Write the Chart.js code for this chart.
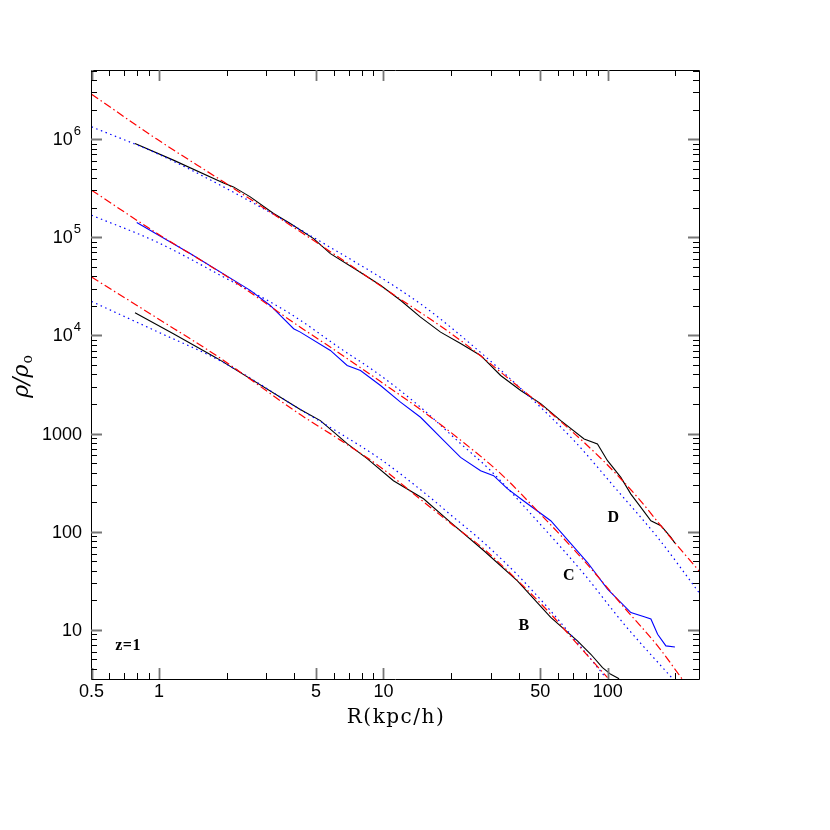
<!DOCTYPE html>
<html><head><meta charset="utf-8">
<script src="https://cdn.jsdelivr.net/npm/chart.js@4/dist/chart.umd.min.js"></script>
<style>html,body{margin:0;padding:0;background:#fff;}canvas{display:block;}</style>
</head><body>
<canvas id="c" width="830" height="830"></canvas>
<script>
// ---- axis ranges / ticks ----
const X_MIN = 0.4972, X_MAX = 254.9;
const Y_MIN = 3.162, Y_MAX = 5.06e6;
const xTickValues = [0.5, 1, 5, 10, 50, 100];
const xTickLabels = ['0.5', '1', '5', '10', '50', '100'];
const yTickValues = [10, 100, 1000, 1e4, 1e5, 1e6];
const yTickBase = ['10', '100', '1000', '10', '10', '10'];
const yTickExp = ['', '', '', '4', '5', '6'];

// ---- halo D (top) ----
const D_sim_R   = [0.781,1.158,1.937,2.146,2.549,3.238,3.844,4.885,5.80,7.63,9.70,11.91,14.63,17.97,22.07,27.10,33.29,40.89,50.22,61.7,78.4,89.9,99.7,114.3,126.7,140.4,155.6,172.5,191.1,199.1];
const D_sim_rho = [9.04e5,6.11e5,3.58e5,3.26e5,2.58e5,1.746e5,1.380e5,9.70e4,6.82e4,4.61e4,3.24e4,2.28e4,1.538e4,1.081e4,8.29e3,6.25e3,3.91e3,2.75e3,2.02e3,1357,883,785,530,358,242,177,129.5,115.1,87.5,76.7];
const D_fitA_R   = [0.5,0.977,1.937,5.40,9.70,22.07,40.89,61.7,96.3,135.7,184.7,254.9];
const D_fitA_rho = [2.87e6,1.0e6,3.67e5,7.96e4,3.20e4,8.89e3,2.88e3,1326,518,224,94.7,40.0];
const D_fitB_R   = [0.5,0.977,1.937,5.40,14.63,27.10,40.89,70.7,110.5,166.7,254.9];
const D_fitB_rho = [1.335e6,7.15e5,3.26e5,8.69e4,2.096e4,6.71e3,2.88e3,848,262,87.5,24.0];

// ---- halo C (middle) ----
const C_sim_R   = [0.795,1.375,2.549,3.13,3.978,4.26,5.80,6.89,7.90,9.70,11.91,14.63,17.97,22.07,27.10,30.98,35.66,40.89,55.66,81.2,99.7,126.7,145.3,155.6,166.7,181.5,199.1];
const C_sim_rho = [1.413e5,6.82e4,2.88e4,2.02e4,1.17e4,1.081e4,7.03e3,4.94e3,4.39e3,3.09e3,2.09e3,1467,917,573,419,373,275,217,129.5,48.6,26.0,15.0,13.6,12.9,9.04,6.87,6.71];
const C_fitA_R   = [0.5,0.977,1.937,4.26,6.43,9.70,14.63,22.07,33.29,46.9,78.4,118.3,166.7,214];
const C_fitA_rho = [3.02e5,1.099e5,4.19e4,1.215e4,6.48e3,3.39e3,1757,858,391,177,50.6,16.9,6.87,3.18];
const C_fitB_R   = [0.5,0.977,1.937,3.844,6.43,9.70,14.63,22.07,30.05,46.9,78.4,118.3,194.5];
const C_fitB_rho = [1.677e5,8.95e4,3.94e4,1.665e4,7.37e3,3.91e3,1855,791,419,140,37.0,11.4,3.18];

// ---- halo B (bottom) ----
const B_sim_R   = [0.781,1.158,1.810,4.26,5.235,6.89,8.46,11.08,15.09,19.91,28.04,39.54,55.66,73.2,84.0,94.7,103.1,112.3];
const B_sim_rho = [1.704e4,1.041e4,5.87e3,1757,1357,791,556,331,217,124.4,64.0,31.6,13.4,7.72,5.65,4.12,3.53,3.18];
const B_fitA_R   = [0.5,0.977,1.840,4.26,6.43,9.70,14.33,19.91,28.04,39.54,55.66,73.2,99.7];
const B_fitA_rho = [3.93e4,1.509e4,6.03e3,1563,858,455,222,122.1,66.6,32.0,14.5,7.15,3.26];
const B_fitB_R   = [0.5,0.977,1.937,4.26,6.43,9.70,16.21,19.91,28.04,39.54,55.66,78.4,97.97];
const B_fitB_rho = [2.22e4,1.098e4,5.30e3,1757,1000,549,222,149.1,77.2,36.4,15.6,6.11,3.26];

// ---- text labels (data coordinates) ----
const labelText = ['D', 'C', 'B', 'z=1'];
const labelR    = [106, 67.2, 42.3, 0.727];
const labelRho  = [140, 35.6, 11.0, 6.87];

const pts = (R, rho) => R.map((r, i) => ({x: r, y: rho[i]}));
const RED = '#ff0000', BLUE = '#0000ff', BLACK = '#000000';
const dashDot = [8, 3, 1.5, 3];
const dotted = [1.5, 3.5];

function fitDS(label, R, rho, color, dash) {
  return {label, data: pts(R, rho), borderColor: color, borderWidth: 1.2, borderDash: dash,
    pointRadius: 0, fill: false, tension: 0.4, cubicInterpolationMode: 'monotone'};
}
function simDS(label, R, rho, color) {
  return {label, data: pts(R, rho), borderColor: color, borderWidth: 1.1,
    pointRadius: 0, fill: false, tension: 0};
}

const decor = {
  id: 'decor',
  afterDraw(chart) {
    const ctx = chart.ctx, a = chart.chartArea;
    const xs = chart.scales.x, ys = chart.scales.y;
    ctx.save();
    // frame
    ctx.strokeStyle = '#000'; ctx.lineWidth = 1;
    ctx.beginPath();
    ctx.moveTo(a.left + 0.5, a.top + 0.5); ctx.lineTo(a.right + 0.5, a.top + 0.5);
    ctx.lineTo(a.right + 0.5, a.bottom + 0.5); ctx.lineTo(a.left + 0.5, a.bottom + 0.5);
    ctx.closePath(); ctx.stroke();
    // x ticks
    for (let k = -1; k <= 2; k++) {
      for (let m = 1; m <= 9; m++) {
        const v = m * Math.pow(10, k);
        if (v < X_MIN || v > X_MAX) continue;
        const major = (m === 1 || m === 5);
        const px = Math.round(xs.getPixelForValue(v)) + 0.5;
        const len = major ? 11 : 6;
        ctx.strokeStyle = major ? '#777' : '#000';
        ctx.lineWidth = major ? 1.8 : 1;
        ctx.beginPath();
        ctx.moveTo(px, a.bottom); ctx.lineTo(px, a.bottom - len);
        ctx.moveTo(px, a.top); ctx.lineTo(px, a.top + len);
        ctx.stroke();
      }
    }
    // y ticks
    for (let k = 0; k <= 6; k++) {
      for (let m = 1; m <= 9; m++) {
        const v = m * Math.pow(10, k);
        if (v < Y_MIN || v > Y_MAX) continue;
        const major = (m === 1);
        const py = Math.round(ys.getPixelForValue(v)) + 0.5;
        const len = major ? 11 : 6;
        ctx.strokeStyle = major ? '#777' : '#000';
        ctx.lineWidth = major ? 1.8 : 1;
        ctx.beginPath();
        ctx.moveTo(a.left, py); ctx.lineTo(a.left + len, py);
        ctx.moveTo(a.right, py); ctx.lineTo(a.right - len, py);
        ctx.stroke();
      }
    }
    ctx.fillStyle = '#000';
    // x tick labels
    ctx.font = '18px "Liberation Sans", Arial, sans-serif';
    ctx.textAlign = 'center'; ctx.textBaseline = 'middle';
    xTickValues.forEach((v, i) => {
      ctx.fillText(xTickLabels[i], xs.getPixelForValue(v), a.bottom + 13);
    });
    // y tick labels
    const rightX = a.left - 10;
    yTickValues.forEach((v, i) => {
      const py = ys.getPixelForValue(v);
      ctx.textBaseline = 'middle';
      if (yTickExp[i]) {
        ctx.font = '13px "Liberation Sans", Arial, sans-serif';
        ctx.textAlign = 'right';
        ctx.fillText(yTickExp[i], rightX, py - 8);
        const ew = ctx.measureText(yTickExp[i]).width;
        ctx.font = '18px "Liberation Sans", Arial, sans-serif';
        ctx.fillText(yTickBase[i], rightX - ew - 1, py + 1);
      } else {
        ctx.font = '18px "Liberation Sans", Arial, sans-serif';
        ctx.textAlign = 'right';
        ctx.fillText(yTickBase[i], rightX + 1, py + 1);
      }
    });
    // axis titles
    ctx.font = '20px "DejaVu Serif", "Liberation Serif", serif';
    try { ctx.letterSpacing = '1.5px'; } catch (e) {}
    ctx.textAlign = 'center'; ctx.textBaseline = 'middle';
    ctx.fillText('R(kpc/h)', (a.left + a.right) / 2 + 1, 718);
    try { ctx.letterSpacing = '0px'; } catch (e) {}
    ctx.save();
    ctx.translate(22, 377);
    ctx.rotate(-Math.PI / 2);
    ctx.font = 'italic 22px "DejaVu Serif", "Liberation Serif", serif';
    ctx.textAlign = 'left'; ctx.textBaseline = 'middle';
    const main = 'ρ/ρ';
    const mw = ctx.measureText(main).width;
    ctx.font = '14px "DejaVu Serif", "Liberation Serif", serif';
    const sw = ctx.measureText('o').width;
    const x0 = -(mw + sw) / 2;
    ctx.font = 'italic 22px "DejaVu Serif", "Liberation Serif", serif';
    ctx.fillText(main, x0, 0);
    ctx.font = '14px "DejaVu Serif", "Liberation Serif", serif';
    ctx.fillText('o', x0 + mw + 1, 6);
    ctx.restore();
    // in-plot labels
    ctx.font = 'bold 16px "Liberation Serif", "DejaVu Serif", serif';
    try { ctx.letterSpacing = '0.5px'; } catch (e) {}
    ctx.textAlign = 'center'; ctx.textBaseline = 'middle';
    labelText.forEach((t, i) => {
      ctx.fillText(t, xs.getPixelForValue(labelR[i]), ys.getPixelForValue(labelRho[i]));
    });
    ctx.restore();
  }
};

new Chart(document.getElementById('c'), {
  type: 'line',
  data: {
    datasets: [
      fitDS('D fit A', D_fitA_R, D_fitA_rho, RED, dashDot),
      fitDS('D fit B', D_fitB_R, D_fitB_rho, BLUE, dotted),
      fitDS('C fit A', C_fitA_R, C_fitA_rho, RED, dashDot),
      fitDS('C fit B', C_fitB_R, C_fitB_rho, BLUE, dotted),
      fitDS('B fit A', B_fitA_R, B_fitA_rho, RED, dashDot),
      fitDS('B fit B', B_fitB_R, B_fitB_rho, BLUE, dotted),
      simDS('D', D_sim_R, D_sim_rho, BLACK),
      simDS('C', C_sim_R, C_sim_rho, BLUE),
      simDS('B', B_sim_R, B_sim_rho, BLACK)
    ]
  },
  options: {
    animation: false, responsive: false, devicePixelRatio: 1,
    layout: {padding: {left: 91, right: 131, top: 70, bottom: 151}},
    plugins: {legend: {display: false}, tooltip: {enabled: false}},
    scales: {
      x: {type: 'logarithmic', display: false, min: X_MIN, max: X_MAX},
      y: {type: 'logarithmic', display: false, min: Y_MIN, max: Y_MAX}
    }
  },
  plugins: [decor]
});
</script>
</body></html>
